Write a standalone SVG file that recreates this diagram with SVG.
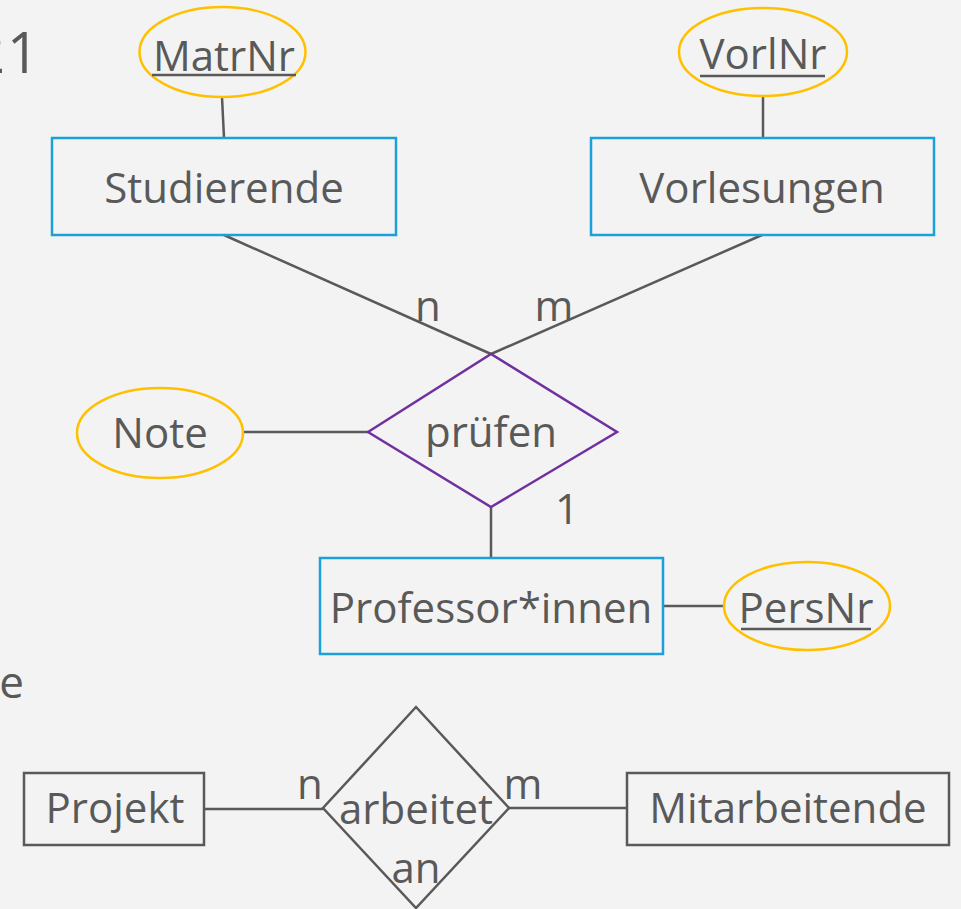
<svg xmlns="http://www.w3.org/2000/svg" width="961" height="909" viewBox="0 0 961 909">
<style>
text{font-family:"Open Sans","Liberation Sans",sans-serif;font-size:42px;fill:#595959;text-anchor:middle}
.attr{fill:none;stroke:#ffc000;stroke-width:2.5}
.ent{fill:none;stroke:#1ba1d9;stroke-width:2.5}
.rel{fill:none;stroke:#7030a0;stroke-width:2.5}
.gray{fill:none;stroke:#595959;stroke-width:2.5}
.ul{stroke:#595959;stroke-width:2.5}
#connectors line{stroke:#595959;stroke-width:2.5}
</style>
<rect width="961" height="909" fill="#f3f3f3"/>
<text x="39" y="73" style="font-size:56px;text-anchor:end">2<tspan dx="2">1</tspan></text>
<text x="24" y="698" style="font-size:44px;text-anchor:end">e</text>
<g id="connectors">
<line x1="222" y1="97" x2="224" y2="138"/>
<line x1="763" y1="97" x2="763" y2="138"/>
<line x1="224" y1="235" x2="491" y2="354"/>
<line x1="762" y1="235" x2="491" y2="354"/>
<line x1="243" y1="432" x2="368" y2="432"/>
<line x1="491" y1="507" x2="491" y2="558"/>
<line x1="663" y1="606" x2="724" y2="606"/>
<line x1="204" y1="809" x2="323" y2="809"/>
<line x1="509" y1="808" x2="627" y2="808"/>
<text x="428" y="321">n</text>
<text x="554" y="321">m</text>
<text x="567" y="524">1</text>
<text x="310" y="799">n</text>
<text x="523" y="799">m</text>
</g>
<g id="MatrNr">
<ellipse class="attr" cx="222.5" cy="52" rx="83" ry="45"/>
<text x="224" y="71">MatrNr</text>
<line class="ul" x1="152" y1="75" x2="296" y2="75"/>
</g>
<g id="VorlNr">
<ellipse class="attr" cx="763" cy="52" rx="84" ry="44"/>
<text x="763" y="69">VorlNr</text>
<line class="ul" x1="700" y1="76" x2="825" y2="76"/>
</g>
<g id="Studierende">
<rect class="ent" x="52" y="138" width="344" height="97"/>
<text x="224" y="203">Studierende</text>
</g>
<g id="Vorlesungen">
<rect class="ent" x="591" y="138" width="343" height="97"/>
<text x="762" y="203">Vorlesungen</text>
</g>
<g id="Note">
<ellipse class="attr" cx="160" cy="433" rx="83" ry="45"/>
<text x="160" y="448">Note</text>
</g>
<g id="pruefen">
<polygon class="rel" points="368,432 491,354 617,432 491,507"/>
<text x="491" y="447">prüfen</text>
</g>
<g id="Professor">
<rect class="ent" x="320" y="558" width="343" height="96"/>
<text x="491" y="623">Professor*innen</text>
</g>
<g id="PersNr">
<ellipse class="attr" cx="807" cy="606" rx="83" ry="44"/>
<text x="806" y="623">PersNr</text>
<line class="ul" x1="741" y1="629" x2="871" y2="629"/>
</g>
<g id="Projekt">
<rect class="gray" x="24" y="773" width="180" height="72"/>
<text x="115" y="823">Projekt</text>
</g>
<g id="arbeitet_an">
<polygon class="gray" points="416,707 509,808 416,908 323,808"/>
<text x="416" y="824">arbeitet</text>
<text x="416" y="883">an</text>
</g>
<g id="Mitarbeitende">
<rect class="gray" x="627" y="773" width="322" height="72"/>
<text x="788" y="823">Mitarbeitende</text>
</g>
</svg>
